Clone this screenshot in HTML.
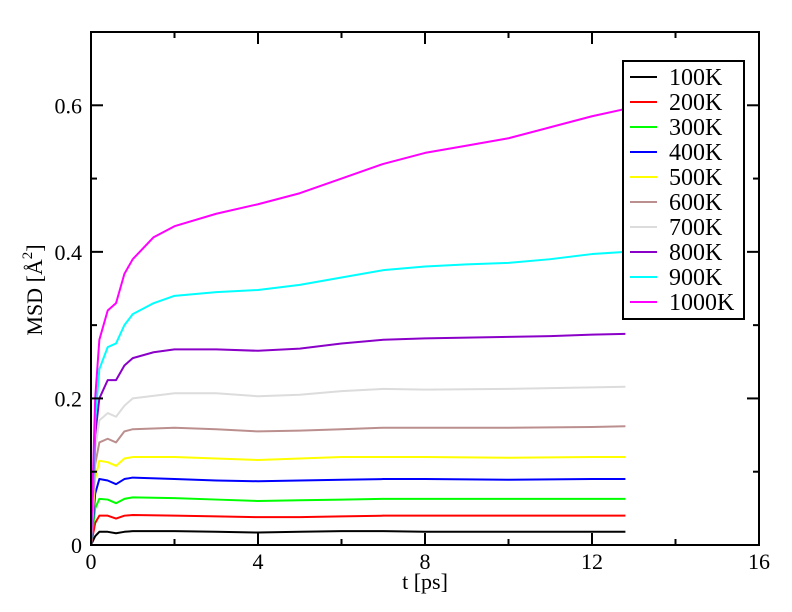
<!DOCTYPE html>
<html><head><meta charset="utf-8"><style>
body{margin:0;background:#fff}
svg{display:block;font-family:"Liberation Serif",serif}
</style></head><body>
<svg id="chart" width="792" height="612" viewBox="0 0 792 612" xmlns="http://www.w3.org/2000/svg">
<g id="plot"></g>
<g id="axes"></g>
<g id="legend"></g>
<text x="425" y="589" font-size="22" text-anchor="middle">t [ps]</text>
<text transform="translate(42,290) rotate(-90)" font-size="22" text-anchor="middle">MSD [Å<tspan dy="-10" font-size="15">2</tspan><tspan dy="10">]</tspan></text>
</svg>
<script>
const labels=["100K","200K","300K","400K","500K","600K","700K","800K","900K","1000K"];
const colors=["#000000","#ff0000","#00ff00","#0000ff","#ffff00","#bc8f8f","#dcdcdc","#8a00c8","#00ffff","#ff00ff"];
const t1000=[0,0.1,0.2,0.4,0.6,0.8,1,1.5,2,3,4,5,6,7,8,9,10,11,12,12.8];
const v1000=[0,0.2,0.28,0.32,0.33,0.37,0.39,0.42,0.435,0.452,0.465,0.48,0.5,0.52,0.535,0.545,0.555,0.57,0.585,0.595];
const t900=t1000;
const v900=[0,0.17,0.24,0.27,0.275,0.3,0.315,0.33,0.34,0.345,0.348,0.355,0.365,0.375,0.38,0.383,0.385,0.39,0.397,0.4];
const t800=t1000;
const v800=[0,0.15,0.2,0.225,0.225,0.245,0.255,0.263,0.267,0.267,0.265,0.268,0.275,0.28,0.282,0.283,0.284,0.285,0.287,0.288];
const tLow=[0,0.1,0.2,0.4,0.6,0.8,1,2,3,4,5,6,7,8,10,12,12.8];
const v700=[0,0.13,0.17,0.18,0.175,0.19,0.2,0.207,0.207,0.203,0.205,0.21,0.213,0.212,0.213,0.215,0.216];
const v600=[0,0.11,0.14,0.145,0.14,0.155,0.158,0.16,0.158,0.155,0.156,0.158,0.16,0.16,0.16,0.161,0.162];
const v500=[0,0.09,0.115,0.113,0.108,0.118,0.12,0.12,0.118,0.116,0.118,0.12,0.12,0.12,0.119,0.12,0.12];
const v400=[0,0.07,0.09,0.088,0.083,0.09,0.092,0.09,0.088,0.087,0.088,0.089,0.09,0.09,0.089,0.09,0.09];
const v300=[0,0.05,0.063,0.062,0.057,0.063,0.065,0.064,0.062,0.06,0.061,0.062,0.063,0.063,0.063,0.063,0.063];
const v200=[0,0.03,0.04,0.04,0.036,0.04,0.041,0.04,0.039,0.038,0.038,0.039,0.04,0.04,0.04,0.04,0.04];
const v100=[0,0.012,0.018,0.018,0.016,0.018,0.019,0.019,0.018,0.017,0.018,0.019,0.019,0.018,0.018,0.018,0.018];
const xTicks=[0,4,8,12,16];
const yTicks=[0,0.2,0.4,0.6];
const yTickLabels=["0","0.2","0.4","0.6"];

const series=[[tLow,v100],[tLow,v200],[tLow,v300],[tLow,v400],[tLow,v500],[tLow,v600],[tLow,v700],[t800,v800],[t900,v900],[t1000,v1000]];
const X0=91,X1=759,Y0=545,Y1=32,XMAX=16,YMAX=0.7;
const xs=t=>X0+t/XMAX*(X1-X0);
const ys=v=>Y0-v/YMAX*(Y0-Y1);
const NS="http://www.w3.org/2000/svg";
function mk(tag,parent){const e=document.createElementNS(NS,tag);parent.appendChild(e);return e;}
const plot=document.getElementById('plot'),axes=document.getElementById('axes'),leg=document.getElementById('legend');
series.forEach((s,i)=>{
  const p=mk('polyline',plot);
  
  
  p.setAttribute('points',s[0].map((t,j)=>xs(t)+','+ys(s[1][j])).join(' '));
  p.setAttribute('fill','none');p.setAttribute('stroke',colors[i]);p.setAttribute('stroke-width','2');p.setAttribute('stroke-linejoin','round');
});
const fr=mk('rect',axes);


fr.setAttribute('x',X0);fr.setAttribute('y',Y1);fr.setAttribute('width',X1-X0);fr.setAttribute('height',Y0-Y1);
fr.setAttribute('fill','none');fr.setAttribute('stroke','#000');fr.setAttribute('stroke-width','2');
function tick(x1,y1,x2,y2){const l=mk('line',axes);


l.setAttribute('x1',x1);l.setAttribute('y1',y1);l.setAttribute('x2',x2);l.setAttribute('y2',y2);l.setAttribute('stroke','#000');l.setAttribute('stroke-width','2');}
for(let t=0;t<=16;t+=2){const L=t%4===0?12:6;const x=xs(t);tick(x,Y0,x,Y0-L);tick(x,Y1,x,Y1+L);}
for(let k=0;k<=7;k++){const v=k*0.1;const L=k%2===0?12:6;const y=ys(v);tick(X0,y,X0+L,y);tick(X1,y,X1-L,y);}
xTicks.forEach(t=>{const e=mk('text',axes);


e.setAttribute('x',xs(t));e.setAttribute('y',Y0+24);e.setAttribute('font-size','22');e.setAttribute('text-anchor','middle');e.textContent=t;});
yTicks.forEach((v,i)=>{const e=mk('text',axes);


e.setAttribute('x',X0-9);e.setAttribute('y',ys(v)+8);e.setAttribute('font-size','22');e.setAttribute('text-anchor','end');e.textContent=yTickLabels[i];});
const lb=mk('rect',leg);


lb.setAttribute('x',623);lb.setAttribute('y',61);lb.setAttribute('width',121);lb.setAttribute('height',258);
lb.setAttribute('fill','#fff');lb.setAttribute('stroke','#000');lb.setAttribute('stroke-width','2');
labels.forEach((lab,i)=>{const y=77+i*25;
const l=mk('line',leg);


l.setAttribute('x1',630);l.setAttribute('x2',657);l.setAttribute('y1',y);l.setAttribute('y2',y);l.setAttribute('stroke',colors[i]);l.setAttribute('stroke-width','2');
const tx=mk('text',leg);


tx.setAttribute('x',669);tx.setAttribute('y',y+8);tx.setAttribute('font-size','24');tx.textContent=lab;});
</script>
</body></html>
